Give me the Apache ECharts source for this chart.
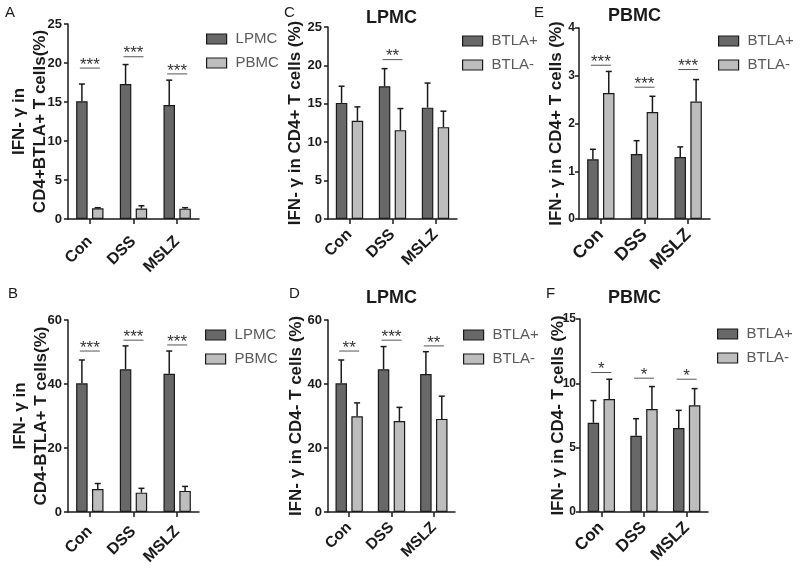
<!DOCTYPE html>
<html>
<head>
<meta charset="utf-8">
<script src="https://cdn.jsdelivr.net/npm/echarts@6/dist/echarts.min.js"></script>
<style>
html,body{margin:0;padding:0;background:#fff;}
#c{width:800px;height:574px;}
</style>
</head>
<body>
<div id="c"></div>
<script>
const categories = ['Con', 'DSS', 'MSLZ'];

// Panel A: IFN-γ in CD4+BTLA+ T cells (%)
const aLPMC = [15.1, 17.3, 14.6];
const aLPMCErr = [17.3, 19.8, 17.8];
const aPBMC = [1.37, 1.35, 1.33];
const aPBMCErr = [1.45, 1.7, 1.45];
const aSig = [19.35, 20.8, 18.6];
const aStars = ['***', '***', '***'];

// Panel B: IFN-γ in CD4-BTLA+ T cells (%)
const bLPMC = [40.2, 44.6, 43.2];
const bLPMCErr = [47.5, 51.9, 50.3];
const bPBMC = [7.2, 6.05, 6.6];
const bPBMCErr = [8.9, 7.4, 8.0];
const bSig = [50.3, 53.7, 52.2];
const bStars = ['***', '***', '***'];

// Panel C: LPMC, IFN-γ in CD4+ T cells (%)
const cPos = [15.12, 17.29, 14.5];
const cPosErr = [17.29, 19.58, 17.7];
const cNeg = [12.78, 11.57, 11.96];
const cNegErr = [14.6, 14.38, 14.04];
const cSigCat = [1];
const cSig = [20.75];
const cStars = ['**'];

// Panel D: LPMC, IFN-γ in CD4- T cells (%)
const dPos = [40.2, 44.6, 43.1];
const dPosErr = [47.5, 51.7, 50.1];
const dNeg = [29.9, 28.4, 29.1];
const dNegErr = [34.1, 32.7, 36.2];
const dSig = [50.3, 53.7, 51.9];
const dStars = ['**', '***', '**'];

// Panel E: PBMC, IFN-γ in CD4+ T cells (%)
const ePos = [1.25, 1.36, 1.30];
const ePosErr = [1.46, 1.64, 1.51];
const eNeg = [2.64, 2.24, 2.46];
const eNegErr = [3.09, 2.57, 2.92];
const eSig = [3.22, 2.76, 3.13];
const eStars = ['***', '***', '***'];

// Panel F: PBMC, IFN-γ in CD4- T cells (%)
const fPos = [6.94, 5.93, 6.52];
const fPosErr = [8.66, 7.25, 7.9];
const fNeg = [8.78, 8.0, 8.29];
const fNegErr = [10.32, 9.75, 9.59];
const fSig = [10.84, 10.4, 10.32];
const fStars = ['*', '*', '*'];

const FONT = '"Liberation Sans", Arial, sans-serif';
const DARK = '#686868';
const LIGHT = '#bdbdbd';
const INK = '#1a1a1a';
const BAR_W = 11.5;
const BAR_GAP = 0.38;
const OFF = (BAR_W + BAR_W * BAR_GAP) / 2;

const panels = [
  {grid:{left:68, top:24, width:131, height:195}, max:25, interval:5,
   name:'IFN- γ in\nCD4+BTLA+ T cells(%)', gap:17, catSize:16, catMargin:20, tickSize:13, tickMargin:6,
   s:[['LPMC', aLPMC, aLPMCErr, DARK], ['PBMC', aPBMC, aPBMCErr, LIGHT]],
   sigCat:[0,1,2], sig:aSig, stars:aStars},
  {grid:{left:68, top:320, width:131, height:192}, max:60, interval:20,
   name:'IFN- γ in\nCD4-BTLA+ T cells(%)', gap:16, catSize:16, catMargin:17, tickSize:13, tickMargin:6,
   s:[['LPMC', bLPMC, bLPMCErr, DARK], ['PBMC', bPBMC, bPBMCErr, LIGHT]],
   sigCat:[0,1,2], sig:bSig, stars:bStars},
  {grid:{left:328, top:27, width:129, height:192}, max:25, interval:5,
   name:'IFN- γ in CD4+ T cells (%)', gap:22, catSize:16, catMargin:13, tickSize:13, tickMargin:6,
   s:[['BTLA+', cPos, cPosErr, DARK], ['BTLA-', cNeg, cNegErr, LIGHT]],
   sigCat:cSigCat, sig:cSig, stars:cStars},
  {grid:{left:328, top:320, width:127, height:192}, max:60, interval:20,
   name:'IFN- γ in CD4- T cells (%)', gap:21, catSize:15.5, catMargin:13, tickSize:13, tickMargin:6,
   s:[['BTLA+', dPos, dPosErr, DARK], ['BTLA-', dNeg, dNegErr, LIGHT]],
   sigCat:[0,1,2], sig:dSig, stars:dStars},
  {grid:{left:579, top:28, width:131, height:191}, max:4, interval:1,
   name:'IFN- γ in CD4+ T cells (%)', gap:12, catSize:18, catMargin:13, tickSize:12, tickMargin:4,
   s:[['BTLA+', ePos, ePosErr, DARK], ['BTLA-', eNeg, eNegErr, LIGHT]],
   sigCat:[0,1,2], sig:eSig, stars:eStars},
  {grid:{left:580, top:319, width:128, height:193}, max:15, interval:5,
   name:'IFN- γ in CD4- T cells (%)', gap:11, catSize:17, catMargin:13, tickSize:12, tickMargin:4,
   s:[['BTLA+', fPos, fPosErr, DARK], ['BTLA-', fNeg, fNegErr, LIGHT]],
   sigCat:[0,1,2], sig:fSig, stars:fStars}
];

const grids = [], xAxes = [], yAxes = [], series = [];

function errRender(offset) {
  return function (params, api) {
    const c = api.value(0), v = api.value(1), e = api.value(2);
    const p0 = api.coord([c, v]);
    const p1 = api.coord([c, e]);
    const x = p0[0] + offset;
    return {type:'group', children:[
      {type:'line', shape:{x1:x, y1:p0[1], x2:x, y2:p1[1]}, style:{stroke:INK, lineWidth:1.5}},
      {type:'line', shape:{x1:x-3, y1:p1[1], x2:x+3, y2:p1[1]}, style:{stroke:INK, lineWidth:1.5}}
    ]};
  };
}

function sigRender(stars) {
  return function (params, api) {
    const c = api.value(0), y = api.value(1);
    const p = api.coord([c, y]);
    return {type:'group', children:[
      {type:'line', shape:{x1:p[0]-10, y1:p[1], x2:p[0]+10, y2:p[1]}, style:{stroke:'#555', lineWidth:1}},
      {type:'text', style:{text:stars[params.dataIndex], x:p[0], y:p[1]-3, textAlign:'center', textVerticalAlign:'middle',
        font:'17px ' + FONT, fill:'#333'}}
    ]};
  };
}

panels.forEach((p, i) => {
  grids.push(p.grid);
  xAxes.push({
    type:'category', gridIndex:i, data:categories,
    axisLine:{lineStyle:{color:INK, width:1.5}},
    axisTick:{show:true, alignWithLabel:true, length:5, lineStyle:{color:INK, width:1.5}},
    axisLabel:{rotate:45, fontSize:p.catSize, fontWeight:'bold', color:INK, fontFamily:FONT, margin:p.catMargin, interval:0},
    splitLine:{show:false}
  });
  yAxes.push({
    type:'value', gridIndex:i, min:0, max:p.max, interval:p.interval,
    name:p.name, nameLocation:'middle', nameRotate:90, nameGap:p.gap, nameMoveOverlap:false,
    nameTextStyle:{fontSize:17, fontWeight:'bold', color:INK, fontFamily:FONT, lineHeight:21},
    axisLine:{show:true, lineStyle:{color:INK, width:1.5}},
    axisTick:{show:true, length:4, lineStyle:{color:INK, width:1.5}},
    axisLabel:{fontSize:p.tickSize, fontWeight:'bold', color:INK, fontFamily:FONT, margin:p.tickMargin},
    splitLine:{show:false}
  });
  p.s.forEach((s, k) => {
    series.push({
      type:'bar', name:s[0], xAxisIndex:i, yAxisIndex:i, data:s[1],
      barWidth:BAR_W, barGap:(BAR_GAP*100)+'%',
      itemStyle:{color:s[3], borderColor:INK, borderWidth:1.2},
      z:2
    });
  });
  p.s.forEach((s, k) => {
    series.push({
      type:'custom', name:'err-'+i+'-'+k, xAxisIndex:i, yAxisIndex:i,
      data:s[1].map((v, j) => [j, v, s[2][j]]),
      encode:{x:0, y:[1, 2]},
      renderItem:errRender(k === 0 ? -OFF : OFF), z:3
    });
  });
  series.push({
    type:'custom', name:'sig-'+i, xAxisIndex:i, yAxisIndex:i,
    data:p.sig.map((v, j) => [p.sigCat[j], v]),
    encode:{x:0, y:1},
    renderItem:sigRender(p.stars), z:4
  });
});

const legendBase = (left, top, names) => ({
  left:left, top:top, orient:'vertical', data:names,
  itemWidth:20, itemHeight:10, itemGap:8, icon:'rect',
  itemStyle:{borderColor:INK, borderWidth:1.2},
  textStyle:{fontSize:15, color:'#5a5a5a', fontFamily:FONT, lineHeight:16, padding:[0,0,0,4]},
  selectedMode:false
});

const textEl = (t, x, y, size, weight) => ({
  type:'text', left:x, top:y,
  style:{text:t, font:(weight||'normal') + ' ' + size + 'px ' + FONT, fill:INK}
});

const option = {
  animation:false,
  backgroundColor:'#fff',
  grid:grids, xAxis:xAxes, yAxis:yAxes, series:series,
  legend:[
    legendBase(201, 26, ['LPMC', 'PBMC']),
    legendBase(200, 322, ['LPMC', 'PBMC']),
    legendBase(457, 28, ['BTLA+', 'BTLA-']),
    legendBase(458, 322, ['BTLA+', 'BTLA-']),
    legendBase(713, 28, ['BTLA+', 'BTLA-']),
    legendBase(712, 321, ['BTLA+', 'BTLA-'])
  ],
  graphic:[
    textEl('A', 5, 5, 15), textEl('C', 284, 5, 15), textEl('E', 534, 5, 15),
    textEl('B', 8, 286, 15), textEl('D', 289, 286, 15), textEl('F', 546, 286, 15),
    textEl('LPMC', 366, 9, 18, 'bold'), textEl('PBMC', 608, 7, 18, 'bold'),
    textEl('LPMC', 366, 289, 18, 'bold'), textEl('PBMC', 608, 289, 18, 'bold')
  ]
};

const chart = echarts.init(document.getElementById('c'), null, {renderer:'canvas'});
chart.setOption(option);
</script>
</body>
</html>
